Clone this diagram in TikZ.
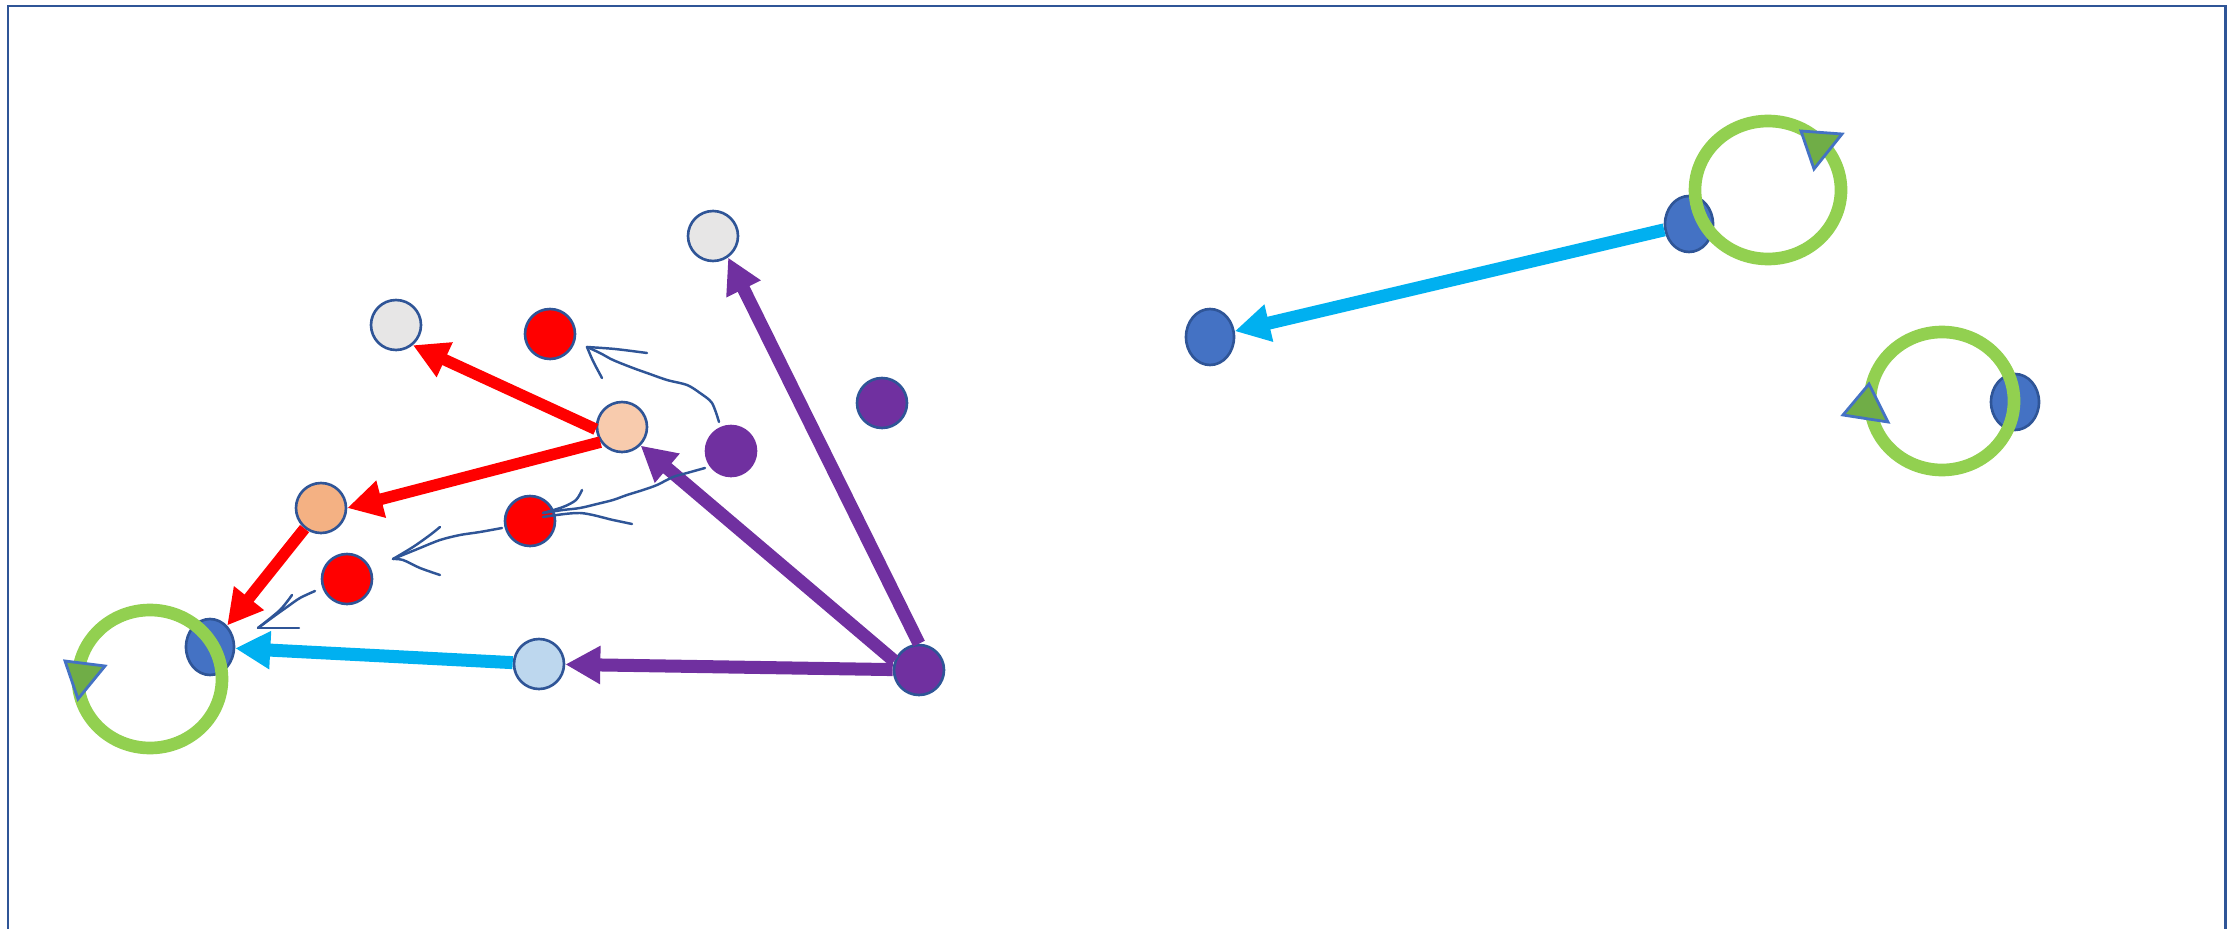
\documentclass[tikz,border=0pt]{standalone}
\usepackage{xcolor}
\usetikzlibrary{arrows.meta,shapes.geometric}
\definecolor{edgeblue}{HTML}{2F5597}
\definecolor{ballblue}{HTML}{4472C4}
\definecolor{skyblue}{HTML}{00B0F0}
\definecolor{paleblue}{HTML}{BDD7EE}
\definecolor{purpleink}{HTML}{7030A0}
\definecolor{peach}{HTML}{F8CBAD}
\definecolor{apricot}{HTML}{F4B183}
\definecolor{lightgrey}{HTML}{E7E6E6}
\definecolor{ringgreen}{HTML}{92D050}
\definecolor{leafgreen}{HTML}{70AD47}
\tikzset{ball/.style={circle, draw=edgeblue, line width=.75pt, minimum size=5mm, inner sep=0pt}, bead/.style={ellipse, draw=edgeblue, line width=.75pt, fill=ballblue, minimum width=4.8mm, minimum height=5.6mm, inner sep=0pt}, push/.style={-{Triangle[length=3.5mm,width=3.6mm]}, line width=3.7pt}, ink/.style={draw=edgeblue, line width=.7pt, line cap=round, line join=round}, ring/.style={draw=ringgreen, line width=3.6pt}, spin/.style={fill=leafgreen, draw=ballblue, line width=.8pt}}

\begin{document}
\begin{tikzpicture}[x=0.1mm,y=-0.1mm]
\useasboundingbox (0,0) rectangle (2232,929);
\draw[edgeblue, line width=.85pt] (8,929) -- (8,6) -- (2225,6) -- (2225,929);
\node[ball,fill=lightgrey] (g1) at (713,236) {}; \node[ball,fill=lightgrey] (g2) at (396,325) {};
\node[ball,fill=red] (r1) at (550,334) {}; \node[ball,fill=peach] (pe) at (622,427) {};
\node[ball,fill=purpleink,draw=purpleink] (p1) at (731,451) {}; \node[ball,fill=purpleink] (p2) at (882,403) {};
\node[ball,fill=apricot] (ap) at (321,508) {}; \node[ball,fill=red] (r2) at (530,521) {};
\node[ball,fill=red] (r3) at (347,579) {}; \node[ball,fill=paleblue] (lb) at (539,664) {};
\node[ball,fill=purpleink] (p0) at (919,670) {};
\node[bead] (b1) at (210,647) {}; \node[bead] (b2) at (1210,337) {};
\node[bead] (b3) at (1689,224) {}; \node[bead] (b4) at (2015,402) {};
\draw[push,red,line width=3.3pt] (pe.185) -- (g2.-50); \draw[push,red,line width=3.3pt] (pe.215) -- (ap.0); \draw[push,red,line width=3.3pt] (ap) -- (b1);
\draw[push,purpleink] (p0.north) -- (g1.-55); \draw[push,purpleink] (p0.160) -- (pe.-45); \draw[push,purpleink] (p0) -- (lb);
\draw[push,skyblue] (lb) -- (b1); \draw[push,skyblue] (b3) -- (b2);
\draw[ring] (150,679) ellipse [x radius=72, y radius=69];
\draw[ring] (1768,190) ellipse [x radius=73, y radius=69];
\draw[ring] (1942,401) ellipse [x radius=72, y radius=69];
\filldraw[spin] (65,661) -- (105,666) -- (78,699) -- cycle;
\filldraw[spin] (1801,131) -- (1842,134) -- (1814,169) -- cycle;
\filldraw[spin] (1869,384) -- (1843,415) -- (1888,422) -- cycle;
\draw[ink] plot[smooth] coordinates {(719,422) (712,403) (700,393) (687,385) (667,380) (647,373) (633,368) (613,360) (600,353) (587,347)};
\draw[ink] plot[smooth] coordinates {(587,347) (615,349) (647,353)};
\draw[ink] plot[smooth] coordinates {(587,347) (593,361) (602,378)};
\draw[ink] plot[smooth] coordinates {(705,468) (687,473) (673,477) (657,485) (643,490) (627,495) (613,500) (597,504) (580,508) (563,510) (543,513)};
\draw[ink] plot[smooth] coordinates {(543,513) (563,507) (576,500) (582,490)};
\draw[ink] plot[smooth] coordinates {(543,517) (580,513) (613,520) (632,524)};
\draw[ink] plot[smooth] coordinates {(502,528) (480,532) (460,535) (440,540) (420,548) (393,559)};
\draw[ink] plot[smooth] coordinates {(393,559) (413,547) (430,535) (440,527)};
\draw[ink] plot[smooth] coordinates {(393,559) (403,560) (420,568) (440,575)};
\draw[ink] plot[smooth] coordinates {(315,591) (300,598) (287,607) (273,617) (258,628)};
\draw[ink] plot[smooth] coordinates {(258,628) (280,610) (292,595)};
\draw[ink] plot[smooth] coordinates {(258,628) (280,628) (299,628)};
\end{tikzpicture}
\end{document}
